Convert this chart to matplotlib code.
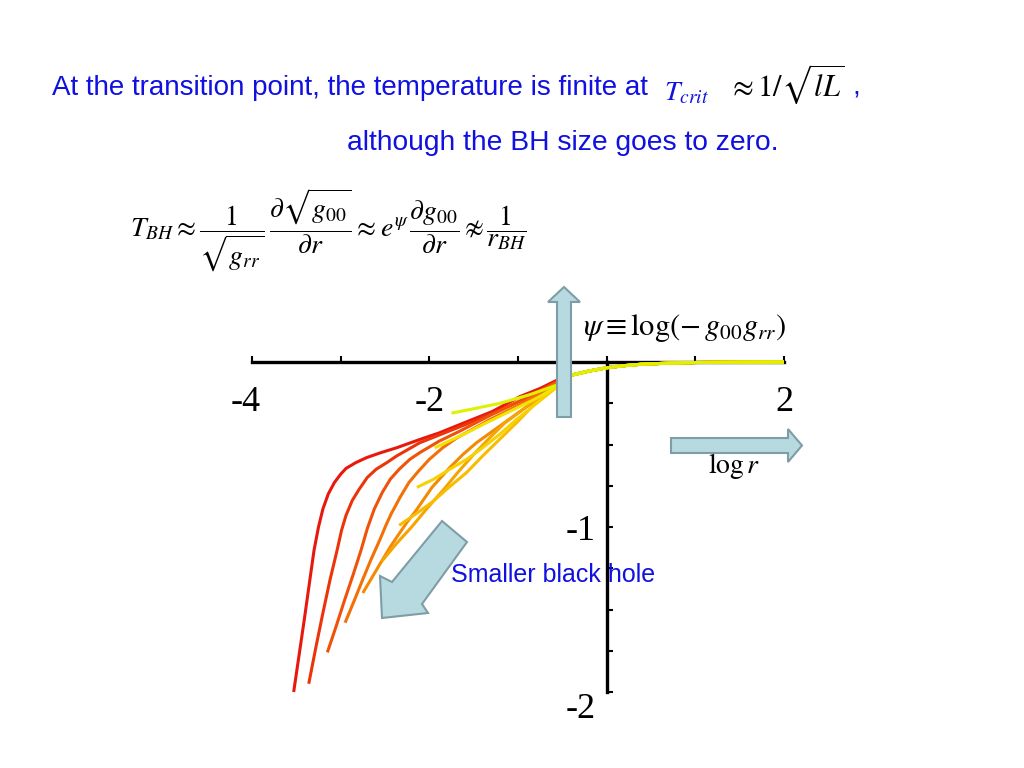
import matplotlib
matplotlib.use("Agg")
import matplotlib.pyplot as plt
from matplotlib.patches import Polygon
import matplotlib.transforms as mtransforms

plt.rcParams['mathtext.fontset'] = 'stix'

# ---------------- data ----------------
c1_x = [-3.53, -3.47, -3.41, -3.35, -3.30, -3.25, -3.20, -3.14, -3.07, -3.00, -2.94, -2.83,
        -2.71, -2.55, -2.37, -2.11, -1.89, -1.66, -1.29, -0.98, -0.75, -0.56]
c1_y = [-2.00, -1.78, -1.56, -1.33, -1.14, -1.00, -0.89, -0.80, -0.73, -0.68, -0.645, -0.61,
        -0.58, -0.55, -0.52, -0.47, -0.43, -0.38, -0.30, -0.21, -0.16, -0.11]
c2_x = [-3.36, -3.28, -3.20, -3.12, -3.04, -2.99, -2.94, -2.87, -2.79, -2.70, -2.60, -2.48,
        -2.37, -2.11, -1.83, -1.55, -1.24, -0.87, -0.56]
c2_y = [-1.95, -1.73, -1.52, -1.32, -1.14, -1.02, -0.93, -0.84, -0.77, -0.70, -0.65, -0.61,
        -0.57, -0.49, -0.43, -0.37, -0.30, -0.21, -0.12]
c3_x = [-3.15, -3.05, -2.96, -2.86, -2.77, -2.70, -2.62, -2.53, -2.44, -2.34, -2.22, -2.11,
        -1.89, -1.66, -1.30, -0.95, -0.56]
c3_y = [-1.76, -1.60, -1.45, -1.29, -1.14, -1.01, -0.89, -0.79, -0.71, -0.65, -0.59, -0.55,
        -0.48, -0.42, -0.32, -0.23, -0.12]
c4_x = [-2.95, -2.85, -2.76, -2.66, -2.56, -2.49, -2.43, -2.33, -2.23, -2.12, -2.00, -1.85,
        -1.69, -1.32, -0.95, -0.56]
c4_y = [-1.58, -1.45, -1.33, -1.20, -1.08, -0.99, -0.92, -0.82, -0.73, -0.66, -0.59, -0.52,
        -0.46, -0.35, -0.25, -0.13]
c5_x = [-2.75, -2.64, -2.53, -2.44, -2.34, -2.25, -2.15, -2.06, -1.97, -1.77, -1.62, -1.47,
        -1.21, -0.90, -0.56]
c5_y = [-1.40, -1.30, -1.20, -1.12, -1.04, -0.97, -0.90, -0.83, -0.76, -0.64, -0.56, -0.49,
        -0.39, -0.27, -0.14]
c6_x = [-2.54, -2.37, -2.20, -2.03, -1.85, -1.68, -1.50, -1.32, -1.15, -0.85, -0.56]
c6_y = [-1.21, -1.10, -1.00, -0.89, -0.78, -0.67, -0.56, -0.46, -0.37, -0.25, -0.14]
c7_x = [-2.34, -2.15, -1.97, -1.78, -1.58, -1.40, -1.21, -1.02, -0.84, -0.56]
c7_y = [-0.99, -0.92, -0.85, -0.76, -0.67, -0.57, -0.47, -0.37, -0.27, -0.15]
c8_x = [-2.14, -1.95, -1.77, -1.58, -1.40, -1.21, -1.02, -0.79, -0.56]
c8_y = [-0.76, -0.71, -0.65, -0.59, -0.52, -0.44, -0.35, -0.25, -0.15]
c9_x = [-1.94, -1.76, -1.58, -1.40, -1.21, -1.00, -0.79, -0.56]
c9_y = [-0.52, -0.475, -0.43, -0.38, -0.33, -0.275, -0.22, -0.15]
c10_x = [-1.75, -1.47, -1.20, -0.88, -0.56]
c10_y = [-0.31, -0.28, -0.25, -0.20, -0.14]

tail_x = [-0.40, -0.20, 0.0, 0.2, 0.4, 0.7, 1.0, 1.5, 2.0]
tail_y = [-0.08, -0.055, -0.035, -0.022, -0.013, -0.007, -0.003, -0.001, 0.0]

curve_colors = ['#e8180c', '#ec340a', '#ef5208', '#f27006', '#f48a04',
                '#f6a403', '#f8bc02', '#f6d200', '#f2e400', '#def200']

x_ticks = [-4, -3, -2, -1, 0, 1, 2]
x_ticklabels = ['-4', '', '-2', '', '', '', '2']
y_ticks = [-2, -1.75, -1.5, -1.25, -1, -0.75, -0.5, -0.25]
y_ticklabels = ['-2', '', '', '', '-1', '', '', '']

curves = [(c1_x, c1_y), (c2_x, c2_y), (c3_x, c3_y), (c4_x, c4_y), (c5_x, c5_y),
          (c6_x, c6_y), (c7_x, c7_y), (c8_x, c8_y), (c9_x, c9_y), (c10_x, c10_y)]

# ---------------- figure ----------------
W, H = 1024, 768
fig = plt.figure(figsize=(W / 100, H / 100), dpi=100)
fig.patch.set_facecolor('white')

# main axes: x -4..2 -> px 252..784, y -2..0 -> px 692..362
ax = fig.add_axes([252 / W, 1 - 692 / H, (784 - 252) / W, (692 - 362) / H])
ax.set_xlim(-4, 2)
ax.set_ylim(-2, 0)
ax.patch.set_alpha(0)
for s in ['top', 'right']:
    ax.spines[s].set_visible(False)
ax.spines['left'].set_position(('data', 0))
ax.spines['bottom'].set_position(('data', 0))
ax.spines['left'].set_linewidth(2.4)
ax.spines['bottom'].set_linewidth(2.4)

for (xs, ys), col in zip(curves, curve_colors):
    ax.plot(list(xs) + tail_x, list(ys) + tail_y, color=col, lw=2.2,
            solid_capstyle='butt', solid_joinstyle='round', clip_on=False, zorder=3)

serif = ['Liberation Serif', 'DejaVu Serif']
ax.set_xticks(x_ticks)
ax.set_xticklabels(x_ticklabels, fontsize=26, family=serif)
ax.set_yticks(y_ticks)
ax.set_yticklabels(y_ticklabels, fontsize=26, family=serif)
ax.tick_params(axis='x', direction='in', length=4, width=1.5, pad=17)
ax.tick_params(axis='y', direction='in', length=4, width=1.5, pad=8)
for lab in ax.get_yticklabels():
    if lab.get_text() == '-2':
        lab.set_transform(lab.get_transform() +
                          mtransforms.ScaledTranslation(0, -13 / 100, fig.dpi_scale_trans))
for lab in ax.get_xticklabels():
    if lab.get_text() == '-4':
        lab.set_transform(lab.get_transform() +
                          mtransforms.ScaledTranslation(-6 / 100, 0, fig.dpi_scale_trans))

# ---------------- overlay in pixel coords ----------------
ov = fig.add_axes([0, 0, 1, 1], zorder=5)
ov.set_xlim(0, W)
ov.set_ylim(H, 0)
ov.axis('off')
ov.patch.set_alpha(0)

fill_c = '#b6dadf'
edge_c = '#7f9da6'
up_arrow = [(557, 417), (571, 417), (571, 302), (580, 302), (564, 287), (548, 302), (557, 302)]
right_arrow = [(671, 438), (788, 438), (788, 429), (802, 445.5), (788, 462), (788, 453), (671, 453)]
diag_arrow = [(442, 521), (467, 542), (422, 604), (428, 613), (382, 618), (380, 576), (392, 582)]
for pts in (up_arrow, right_arrow, diag_arrow):
    ov.add_patch(Polygon(pts, closed=True, facecolor=fill_c, edgecolor=edge_c, lw=1.5))

blue = '#1010e0'
sans = ['Liberation Sans', 'DejaVu Sans']
ov.text(52, 88, 'At the transition point, the temperature is finite at',
        color=blue, fontsize=20, family=sans, va='center', ha='left')
ov.text(664, 92, r'$T_{crit}$', color=blue, fontsize=20, va='center', ha='left')
ov.text(728, 84, r'$\approx 1/\sqrt{lL}$', color='black', fontsize=22, va='center', ha='left')
ov.text(852, 88, ',', color=blue, fontsize=20, family=sans, va='center', ha='left')
ov.text(347, 143, 'although the BH size goes to zero.', color=blue, fontsize=20.3,
        family=sans, va='center', ha='left')

ov.text(130, 230,
        r'$T_{BH}\approx\dfrac{1}{\sqrt{g_{rr}}}\,\dfrac{\partial\sqrt{g_{00}}}{\partial r}'
        r'\approx e^{\psi}\,\dfrac{\partial g_{00}}{\partial r}\,' + '\u2249' + r'\,\dfrac{1}{r_{BH}}$',
        color='black', fontsize=20, va='center', ha='left')

ov.text(583, 328, r'$\psi\equiv\mathrm{log}\left(-\,g_{00}g_{rr}\right)$', color='black',
        fontsize=22, va='center', ha='left')
ov.text(708, 466, r'$\mathrm{log}\,r$', color='black', fontsize=20, va='center', ha='left')
ov.text(451, 575, 'Smaller black hole', color=blue, fontsize=18, family=sans,
        va='center', ha='left')

fig.savefig('out.png', dpi=100)
